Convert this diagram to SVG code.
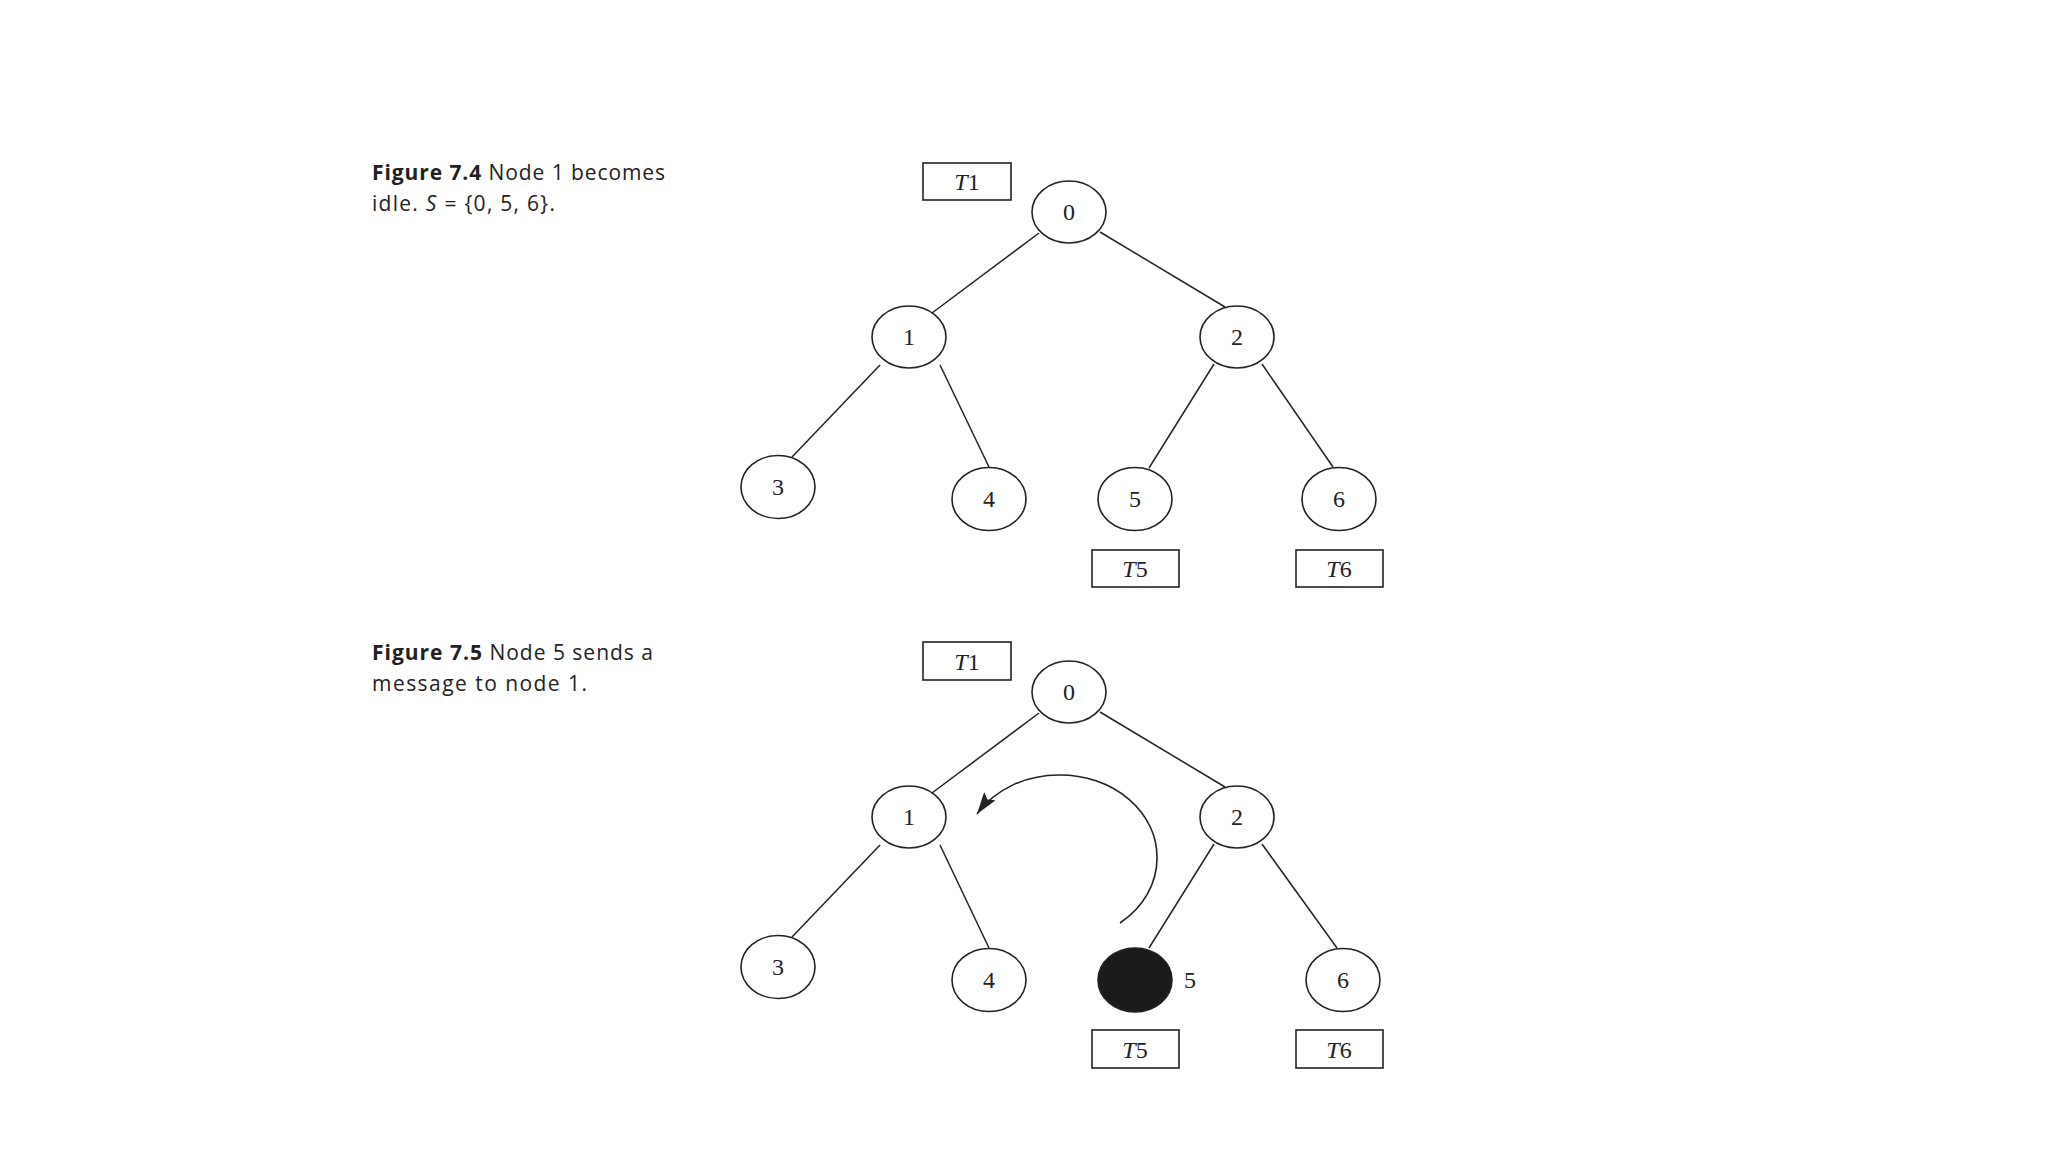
<svg xmlns="http://www.w3.org/2000/svg" width="2048" height="1152" viewBox="0 0 2048 1152">
<defs>
<style>
.node ellipse{fill:#fff;stroke:#222;stroke-width:1.6}
.node text,.lbl{font-family:"Liberation Serif","Times New Roman",serif;font-size:24px;fill:#222;text-anchor:middle}
.tbox rect{fill:#fff;stroke:#222;stroke-width:1.6}
.tbox text{font-family:"Liberation Serif","Times New Roman",serif;font-size:24px;fill:#222;text-anchor:middle}
.it{font-style:italic}
.edges line{stroke:#222;stroke-width:1.5}
.cap{font-family:"Open Sans","Liberation Sans",Arial,sans-serif;font-size:21px;fill:#222}
.b{font-weight:bold}
</style>
<marker id="ah" markerUnits="userSpaceOnUse" markerWidth="24" markerHeight="14" refX="22" refY="7" orient="auto">
<path d="M0,0 L22,7 L0,14 L4,7 Z" fill="#222"/>
</marker>
</defs>
<rect width="2048" height="1152" fill="#fff"/>

<!-- Figure 7.4 caption -->
<g id="caption74">
<text class="cap" x="372" y="180" textLength="293" lengthAdjust="spacing"><tspan class="b">Figure 7.4</tspan>  Node 1 becomes</text>
<text class="cap" x="372" y="211" textLength="183" lengthAdjust="spacing">idle. <tspan class="it">S</tspan> = {0, 5, 6}.</text>
</g>

<!-- Figure 7.4 connectors -->
<g id="edges74" class="edges">
<line x1="1039" y1="233" x2="932" y2="313"/>
<line x1="1100" y1="232" x2="1225" y2="307"/>
<line x1="880" y1="365" x2="792" y2="457"/>
<line x1="940" y1="365" x2="989" y2="467"/>
<line x1="1214" y1="364" x2="1149" y2="468"/>
<line x1="1262" y1="364" x2="1333" y2="467"/>
</g>

<g id="a_T1" class="tbox"><rect x="923" y="163" width="88" height="37"/><text x="967" y="190"><tspan class="it">T</tspan>1</text></g>
<g id="a_n0" class="node"><ellipse cx="1069" cy="212" rx="37" ry="31"/><text x="1069" y="220">0</text></g>
<g id="a_n1" class="node"><ellipse cx="909" cy="337" rx="37" ry="31"/><text x="909" y="345">1</text></g>
<g id="a_n2" class="node"><ellipse cx="1237" cy="337" rx="37" ry="31"/><text x="1237" y="345">2</text></g>
<g id="a_n3" class="node"><ellipse cx="778" cy="487" rx="37" ry="31.5"/><text x="778" y="495">3</text></g>
<g id="a_n4" class="node"><ellipse cx="989" cy="499" rx="37" ry="31.5"/><text x="989" y="507">4</text></g>
<g id="a_n5" class="node"><ellipse cx="1135" cy="499" rx="37" ry="31.5"/><text x="1135" y="507">5</text></g>
<g id="a_n6" class="node"><ellipse cx="1339" cy="499" rx="37" ry="31.5"/><text x="1339" y="507">6</text></g>
<g id="a_T5" class="tbox"><rect x="1092" y="550" width="87" height="37"/><text x="1135" y="577"><tspan class="it">T</tspan>5</text></g>
<g id="a_T6" class="tbox"><rect x="1296" y="550" width="87" height="37"/><text x="1339" y="577"><tspan class="it">T</tspan>6</text></g>

<!-- Figure 7.5 caption -->
<g id="caption75">
<text class="cap" x="372" y="660" textLength="281" lengthAdjust="spacing"><tspan class="b">Figure 7.5</tspan>  Node 5 sends a</text>
<text class="cap" x="372" y="691" textLength="215" lengthAdjust="spacing">message to node 1.</text>
</g>

<!-- Figure 7.5 connectors -->
<g id="edges75" class="edges">
<line x1="1039" y1="713" x2="932" y2="793"/>
<line x1="1100" y1="712" x2="1225" y2="787"/>
<line x1="880" y1="845" x2="792" y2="937"/>
<line x1="940" y1="845" x2="989" y2="948"/>
<line x1="1214" y1="844" x2="1149" y2="948"/>
<line x1="1262" y1="844" x2="1337" y2="948"/>
<path id="msg" d="M1120,923 A96,82 0 0 0 1157,858 A97,82 0 0 0 1060,775 A96,82 0 0 0 977,814" fill="none" stroke="#222" stroke-width="1.6" marker-end="url(#ah)"/>
</g>

<g id="b_T1" class="tbox"><rect x="923" y="642" width="88" height="38"/><text x="967" y="670"><tspan class="it">T</tspan>1</text></g>
<g id="b_n0" class="node"><ellipse cx="1069" cy="692" rx="37" ry="31"/><text x="1069" y="700">0</text></g>
<g id="b_n1" class="node"><ellipse cx="909" cy="817" rx="37" ry="31"/><text x="909" y="825">1</text></g>
<g id="b_n2" class="node"><ellipse cx="1237" cy="817" rx="37" ry="31"/><text x="1237" y="825">2</text></g>
<g id="b_n3" class="node"><ellipse cx="778" cy="967" rx="37" ry="31.5"/><text x="778" y="975">3</text></g>
<g id="b_n4" class="node"><ellipse cx="989" cy="980" rx="37" ry="31.5"/><text x="989" y="988">4</text></g>
<g id="b_n5" class="node"><ellipse cx="1135" cy="980" rx="37" ry="32" style="fill:#1a1a1a"/><text x="1190" y="988">5</text></g>
<g id="b_n6" class="node"><ellipse cx="1343" cy="980" rx="37" ry="31.5"/><text x="1343" y="988">6</text></g>
<g id="b_T5" class="tbox"><rect x="1092" y="1030" width="87" height="38"/><text x="1135" y="1058"><tspan class="it">T</tspan>5</text></g>
<g id="b_T6" class="tbox"><rect x="1296" y="1030" width="87" height="38"/><text x="1339" y="1058"><tspan class="it">T</tspan>6</text></g>
</svg>
